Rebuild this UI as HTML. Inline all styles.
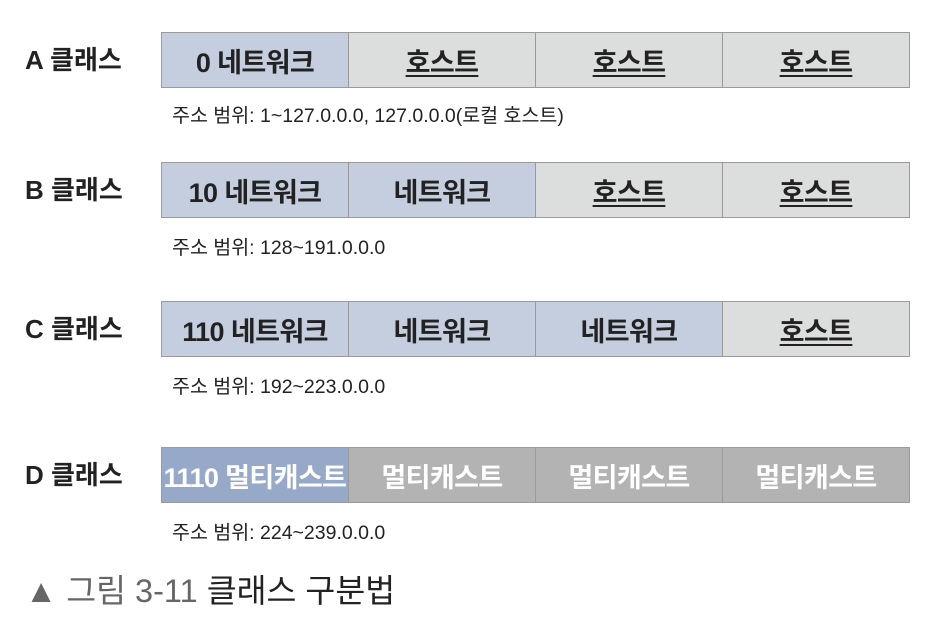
<!DOCTYPE html>
<html><head><meta charset="utf-8"><style>
body{margin:0;width:948px;height:639px;background:#fff;font-family:"Liberation Sans","Noto Sans CJK KR",sans-serif;position:relative;overflow:hidden}
.lbl{position:absolute;left:25px;font-size:26px;font-weight:bold;color:#222;line-height:56px;height:56px}
.row{position:absolute;left:161px;width:749px;height:56px;display:flex;border:1px solid #9a9a9a;box-sizing:border-box}
.c{flex:1;display:flex;align-items:center;justify-content:center;font-size:27px;font-weight:bold;color:#222;border-right:1px solid #9a9a9a;letter-spacing:-0.6px}
.c:last-child{border-right:none}
.n{background:#c5cedf}.h{background:#dcdddd}.h span{text-decoration:underline;text-underline-offset:3px}
.d1{background:#97a9c9;color:#fff}.m{background:#b3b3b3;color:#fff}
.rng{position:absolute;left:172px;font-size:19.5px;color:#222}
.cap{position:absolute;left:25px;top:565px;font-size:32.5px;color:#222}
.cap .g{color:#666}
</style></head><body>
<div class="lbl" style="top:32px">A 클래스</div>
<div class="row" style="top:32px">
<div class="c n">0 네트워크</div>
<div class="c h"><span>호스트</span></div>
<div class="c h"><span>호스트</span></div>
<div class="c h"><span>호스트</span></div></div>
<div class="rng" style="top:99px">주소 범위: 1~127.0.0.0, 127.0.0.0(로컬 호스트)</div>

<div class="lbl" style="top:162px">B 클래스</div>
<div class="row" style="top:162px">
<div class="c n">10 네트워크</div>
<div class="c n">네트워크</div>
<div class="c h"><span>호스트</span></div>
<div class="c h"><span>호스트</span></div></div>
<div class="rng" style="top:231px">주소 범위: 128~191.0.0.0</div>

<div class="lbl" style="top:301px">C 클래스</div>
<div class="row" style="top:301px">
<div class="c n">110 네트워크</div>
<div class="c n">네트워크</div>
<div class="c n">네트워크</div>
<div class="c h"><span>호스트</span></div></div>
<div class="rng" style="top:370px">주소 범위: 192~223.0.0.0</div>

<div class="lbl" style="top:447px">D 클래스</div>
<div class="row" style="top:447px">
<div class="c d1">1110 멀티캐스트</div>
<div class="c m">멀티캐스트</div>
<div class="c m">멀티캐스트</div>
<div class="c m">멀티캐스트</div></div>
<div class="rng" style="top:516px">주소 범위: 224~239.0.0.0</div>

<div class="cap"><span class="g">▲ 그림 3-11</span> 클래스 구분법</div>
</body></html>
